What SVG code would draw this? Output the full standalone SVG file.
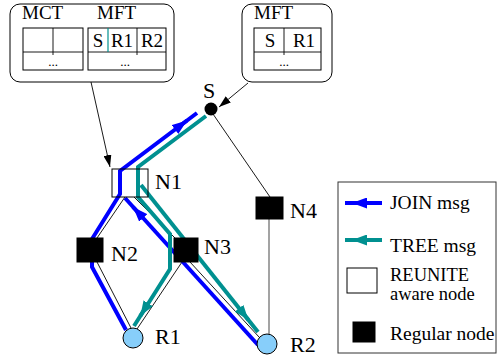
<svg xmlns="http://www.w3.org/2000/svg" width="497" height="358" viewBox="0 0 497 358" font-family="'Liberation Serif', 'Times New Roman', Times, serif">
<style>
text{font-family:'Liberation Serif','Times New Roman',Times,serif;fill:#000}
.lbl{font-size:22px}
.hdr{font-size:19px}
.cell{font-size:19px}
.dots{font-size:13px}
.leg{font-size:19.5px}
.leg2{font-size:18.5px}
.box{fill:#fff;stroke:#000;stroke-width:1}
.thin{fill:none;stroke:#000;stroke-width:0.9}
.gray{fill:none;stroke:#666;stroke-width:1.2}
.join{fill:none;stroke:#0000ff;stroke-width:4;stroke-linejoin:miter}
.tree{fill:none;stroke:#009090;stroke-width:4;stroke-linejoin:miter}
.reg{fill:#000;stroke:#000}
.recv{fill:#87cefa;stroke:#000;stroke-width:1}
</style>
<defs>
<marker id="ab" markerUnits="userSpaceOnUse" markerWidth="15" markerHeight="11" refX="15" refY="5.5" orient="auto"><path d="M0,0 L15,5.5 L0,11 z" fill="#0000ff"/></marker>
<marker id="at" markerUnits="userSpaceOnUse" markerWidth="15" markerHeight="11" refX="15" refY="5.5" orient="auto"><path d="M0,0 L15,5.5 L0,11 z" fill="#009090"/></marker>
<marker id="ak" markerUnits="userSpaceOnUse" markerWidth="12" markerHeight="8" refX="12" refY="4" orient="auto"><path d="M0,0 L12,4 L0,8 z" fill="#000"/></marker>
</defs>

<g id="mct-box">
<rect x="10" y="4" width="164" height="78" rx="10" class="box"/>
<text x="22" y="19" class="hdr">MCT</text>
<text x="97" y="19" class="hdr">MFT</text>
<rect x="23" y="28" width="60" height="42" class="box"/>
<line x1="23" y1="52" x2="83" y2="52" class="thin"/>
<line x1="53" y1="28" x2="53" y2="55" class="thin"/>
<text x="53" y="66" class="dots" text-anchor="middle">...</text>
<rect x="88" y="28" width="78" height="42" class="box"/>
<line x1="88" y1="52" x2="166" y2="52" class="thin"/>
<line x1="108" y1="28" x2="108" y2="52" stroke="#009090" stroke-width="1.2"/>
<line x1="137" y1="28" x2="137" y2="55" class="thin"/>
<text x="98" y="47" class="cell" text-anchor="middle">S</text>
<text x="122" y="47" class="cell" text-anchor="middle">R1</text>
<text x="152" y="47" class="cell" text-anchor="middle">R2</text>
<text x="125" y="66" class="dots" text-anchor="middle">...</text>
</g>

<g id="mft-box">
<rect x="242" y="4" width="90" height="78" rx="10" class="box"/>
<text x="254" y="19" class="hdr">MFT</text>
<rect x="254" y="28" width="67" height="42" class="box"/>
<line x1="254" y1="52" x2="321" y2="52" class="thin"/>
<line x1="284" y1="28" x2="284" y2="55" class="thin"/>
<text x="270" y="47" class="cell" text-anchor="middle">S</text>
<text x="304" y="47" class="cell" text-anchor="middle">R1</text>
<text x="284" y="66" class="dots" text-anchor="middle">...</text>
</g>

<g id="connectors">
<line x1="213" y1="114" x2="270" y2="197" class="thin"/>
<line x1="269" y1="219" x2="269" y2="334" class="gray"/>
<line x1="125" y1="197" x2="97" y2="238" class="thin"/>
<line x1="134" y1="197" x2="175" y2="238" class="thin"/>
<line x1="190" y1="262" x2="259" y2="337" class="thin"/>
<line x1="97" y1="262" x2="131" y2="328" class="thin"/>
<line x1="182" y1="262" x2="137" y2="329" class="thin"/>
<line x1="91" y1="82" x2="110" y2="167" class="thin" marker-end="url(#ak)"/>
<line x1="248" y1="83" x2="219" y2="107" class="thin" marker-end="url(#ak)"/>

<polyline points="126,330 92,267 92,239 120,194 120,171 197,113" class="join"/>
<path d="M177,128 L187,120.5" class="join" marker-end="url(#ab)"/>
<line x1="258" y1="345" x2="125" y2="198" class="join"/>
<path d="M140,214.5 L133,207" class="join" marker-end="url(#ab)"/>

<polyline points="206,116 138,167 138,197 170,234 170,269 134,326" class="tree"/>
<path d="M145.6,307.5 L140.3,316" class="tree" marker-end="url(#at)"/>
<line x1="141" y1="185" x2="258" y2="332" class="tree"/>
<path d="M242.2,312.2 L248.4,320" class="tree" marker-end="url(#at)"/>
</g>

<g id="S">
<circle cx="211" cy="109" r="6.5" fill="#000"/>
<text x="209" y="98" class="lbl" text-anchor="middle">S</text>
</g>
<g id="N1">
<rect x="112" y="169" width="36" height="28" fill="none" stroke="#000" stroke-width="1"/>
<text x="155" y="189" class="lbl">N1</text>
</g>
<g id="N2">
<rect x="77" y="238" width="26" height="24" class="reg"/>
<text x="111" y="261" class="lbl">N2</text>
</g>
<g id="N3">
<rect x="174" y="238" width="24" height="24" class="reg"/>
<text x="204" y="254" class="lbl">N3</text>
</g>
<g id="N4">
<rect x="256" y="197" width="27" height="22" class="reg"/>
<text x="290" y="218" class="lbl">N4</text>
</g>
<g id="R1">
<circle cx="133" cy="338" r="10" class="recv"/>
<text x="155" y="344" class="lbl">R1</text>
</g>
<g id="R2">
<circle cx="267" cy="344" r="10" class="recv"/>
<text x="290" y="352" class="lbl">R2</text>
</g>

<g id="legend">
<rect x="338" y="182" width="158" height="171" fill="#fff" stroke="#333" stroke-width="1"/>
<line x1="345" y1="203" x2="382" y2="203" class="join"/>
<path d="M366,203 L352,203" class="join" marker-end="url(#ab)"/>
<text x="390" y="209" class="leg">JOIN msg</text>
<line x1="345" y1="240" x2="382" y2="240" class="tree"/>
<path d="M366,240 L352,240" class="tree" marker-end="url(#at)"/>
<text x="390" y="252" class="leg">TREE msg</text>
<rect x="347" y="268" width="30" height="25" class="box"/>
<text x="390" y="281" class="leg2">REUNITE</text>
<text x="390" y="300" class="leg2">aware node</text>
<rect x="353" y="322" width="22" height="20" class="reg"/>
<text x="390" y="340" class="leg">Regular node</text>
</g>
</svg>
